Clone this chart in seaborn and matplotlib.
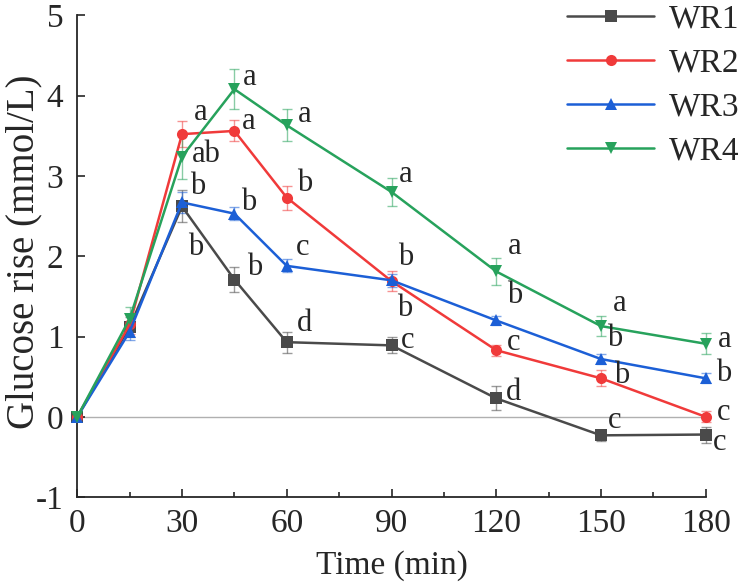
import numpy as np
import pandas as pd
import matplotlib
matplotlib.use("Agg")
import matplotlib.pyplot as plt
from matplotlib.ticker import MultipleLocator
import seaborn as sns

# Glucose rise data
time = [0, 15, 30, 45, 60, 90, 120, 150, 180]
wr1 = [0, 1.12, 2.62, 1.71, 0.93, 0.89, 0.23, -0.23, -0.22]
wr2 = [0, 1.15, 3.52, 3.56, 2.73, 1.69, 0.83, 0.48, 0.0]
wr3 = [0, 1.06, 2.67, 2.53, 1.88, 1.70, 1.20, 0.72, 0.48]
wr4 = [0, 1.22, 3.24, 4.08, 3.63, 2.80, 1.81, 1.13, 0.91]

wr1_sd = [0, 0.12, 0.20, 0.15, 0.13, 0.10, 0.15, 0.07, 0.10]
wr2_sd = [0, 0.12, 0.16, 0.13, 0.15, 0.12, 0.07, 0.10, 0.07]
wr3_sd = [0, 0.10, 0.13, 0.08, 0.08, 0.08, 0.06, 0.06, 0.06]
wr4_sd = [0, 0.15, 0.28, 0.25, 0.20, 0.17, 0.17, 0.12, 0.13]

# significance letters (none at t=0 and t=15)
wr1_sig = ["", "", "b", "b", "d", "c", "d", "c", "c"]
wr2_sig = ["", "", "a", "a", "b", "b", "c", "b", "c"]
wr3_sig = ["", "", "b", "b", "c", "b", "b", "b", "b"]
wr4_sig = ["", "", "ab", "a", "a", "a", "a", "a", "a"]

groups = ["WR1", "WR2", "WR3", "WR4"]
means = [wr1, wr2, wr3, wr4]
sds = [wr1_sd, wr2_sd, wr3_sd, wr4_sd]
sigs = [wr1_sig, wr2_sig, wr3_sig, wr4_sig]

colors = ["#4a4a4a", "#f03a3a", "#1c5fd6", "#27a25c"]
markers = ["s", "o", "^", "v"]

# label offsets in pixels (dx, dy) from each point
offsets = [
    [(0, 0), (0, 0), (14, -41), (20, 12), (18, 19), (16, 5), (17, 6), (14, 15), (14, -8)],
    [(0, 0), (0, 0), (19, 22), (14, 9), (18, 14), (13, -27), (17, 8), (21, 3), (18, 4)],
    [(0, 0), (0, 0), (16, 16), (14, 11), (16, 18), (14, 23), (18, 25), (14, 21), (18, 5)],
    [(0, 0), (0, 0), (24, 2), (15, 12), (18, 11), (14, 17), (18, 25), (19, 23), (19, 4)],
]

df = pd.concat([pd.DataFrame({"Time": time, "Rise": m, "Group": g})
                for g, m in zip(groups, means)], ignore_index=True)

sns.set_style("ticks")
plt.rcParams["font.family"] = ["Liberation Serif", "DejaVu Serif"]
plt.rcParams["axes.unicode_minus"] = False
plt.rcParams["xtick.direction"] = "in"
plt.rcParams["ytick.direction"] = "in"

fig = plt.figure(figsize=(7.5, 5.87), dpi=100)
ax = fig.add_axes([0.103, 0.153, 0.838, 0.821])

ax.axhline(0, color="#b0b0b0", lw=1.0, zorder=0)

for g, m, s, c in zip(groups, means, sds, colors):
    ax.errorbar(time, m, yerr=s, fmt="none", ecolor=c, alpha=0.55,
                elinewidth=1.0, capsize=3.5, capthick=1.0, zorder=2, clip_on=False)

sns.lineplot(data=df, x="Time", y="Rise", hue="Group", style="Group",
             palette=colors, markers=markers, dashes=False, markersize=8,
             markeredgewidth=0, linewidth=1.8, ax=ax, zorder=3, clip_on=False)

for m, sg, off in zip(means, sigs, offsets):
    for t, v, lab, (dx, dy) in zip(time, m, sg, off):
        if lab:
            ax.annotate(lab, (t, v), xytext=(dx * 0.72, dy * 0.72),
                        textcoords="offset points", ha="center", va="center",
                        fontsize=22)

ax.set_xlim(0, 180)
ax.set_ylim(-1, 5)
ax.xaxis.set_major_locator(MultipleLocator(30))
ax.xaxis.set_minor_locator(MultipleLocator(15))
ax.yaxis.set_major_locator(MultipleLocator(1))
ax.tick_params(axis="both", which="major", length=6, width=1.2, labelsize=24)
ax.tick_params(axis="x", which="minor", length=3.5, width=1.2)
ax.tick_params(axis="x", which="major", pad=8)
ax.tick_params(axis="y", which="major", pad=10)
for side in ["top", "right"]:
    ax.spines[side].set_visible(False)
for side in ["left", "bottom"]:
    ax.spines[side].set_linewidth(1.3)

ax.set_xlabel("Time (min)", fontsize=24, labelpad=8)
ax.set_ylabel("Glucose rise (mmol/L)", fontsize=28)
ax.yaxis.set_label_coords(-0.056, 0.51)

leg = ax.legend(loc="upper right", bbox_to_anchor=(1.075, 1.05), frameon=False,
                fontsize=24, handlelength=2.6, handletextpad=0.45,
                labelspacing=0.4, borderaxespad=0)

fig.savefig("out.png", dpi=100)
